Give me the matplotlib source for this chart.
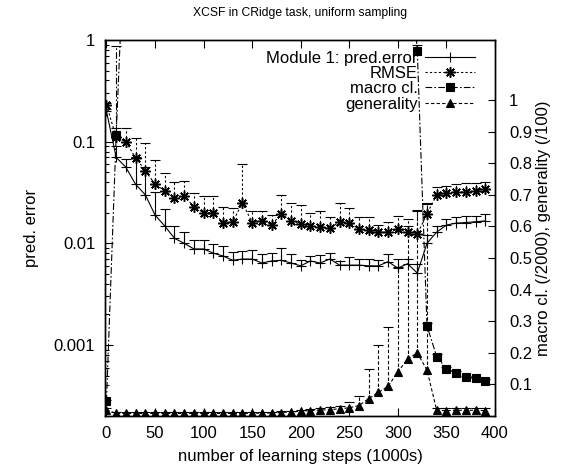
import matplotlib
matplotlib.use("Agg")
import matplotlib.pyplot as plt
from matplotlib.lines import Line2D
from matplotlib.ticker import LogLocator, FuncFormatter, NullFormatter, FixedLocator

plt.rcParams['font.family'] = ['Liberation Sans', 'DejaVu Sans']
plt.rcParams['font.size'] = 12

# learning steps (1000s)
steps = [0, 10, 20, 30, 40, 50, 60, 70, 80, 90,
         100, 110, 120, 130, 140, 150, 160, 170, 180, 190,
         200, 210, 220, 230, 240, 250, 260, 270, 280, 290,
         300, 310, 320, 330, 340, 350, 360, 370, 380, 390]

# Module 1 prediction error (mean and upper deviation)
pred_error = [0.20, 0.070, 0.056, 0.038, 0.030, 0.019, 0.0148, 0.0112, 0.0100, 0.0088,
              0.0088, 0.0080, 0.0075, 0.0068, 0.0070, 0.0070, 0.0064, 0.0067, 0.0068, 0.0064,
              0.0060, 0.0067, 0.0064, 0.0070, 0.0061, 0.0061, 0.0061, 0.0060, 0.0060, 0.0066,
              0.0057, 0.0063, 0.0051, 0.0100, 0.0129, 0.0151, 0.0158, 0.0160, 0.0163, 0.0166]
pred_error_hi = [0.21, 0.090, 0.068, 0.070, 0.056, 0.032, 0.0216, 0.0148, 0.0130, 0.0108,
                 0.0108, 0.0098, 0.0094, 0.0082, 0.0084, 0.0086, 0.0078, 0.0080, 0.0090, 0.0078,
                 0.0068, 0.0075, 0.0077, 0.0080, 0.0067, 0.0073, 0.0070, 0.0070, 0.0068, 0.0079,
                 0.0070, 0.0070, 0.0063, 0.0120, 0.0148, 0.0174, 0.0180, 0.0185, 0.0185, 0.0195]

# RMSE
rmse = [0.23, 0.11, 0.10, 0.069, 0.052, 0.038, 0.033, 0.028, 0.029, 0.023,
        0.020, 0.020, 0.016, 0.0163, 0.025, 0.016, 0.0167, 0.0152, 0.0195, 0.0167,
        0.0155, 0.0148, 0.0144, 0.0140, 0.0163, 0.0160, 0.0137, 0.0134, 0.0129, 0.0129,
        0.0137, 0.0129, 0.0123, 0.0195, 0.030, 0.031, 0.032, 0.032, 0.033, 0.034]
rmse_hi = [0.24, 0.135, 0.137, 0.108, 0.097, 0.066, 0.049, 0.040, 0.041, 0.031,
           0.029, 0.029, 0.023, 0.022, 0.060, 0.021, 0.021, 0.019, 0.030, 0.025,
           0.024, 0.020, 0.021, 0.018, 0.025, 0.022, 0.018, 0.018, 0.015, 0.0163,
           0.0186, 0.0174, 0.0215, 0.025, 0.036, 0.037, 0.038, 0.039, 0.039, 0.040]

# macro classifiers (/2000)
macro_cl = [0.046, 0.89, 1.62, 1.70, 1.74, 1.77, 1.79, 1.80, 1.81, 1.82,
            1.82, 1.83, 1.83, 1.84, 1.84, 1.84, 1.85, 1.85, 1.85, 1.85,
            1.86, 1.86, 1.86, 1.86, 1.86, 1.86, 1.85, 1.84, 1.82, 1.78,
            1.70, 1.55, 1.155, 0.285, 0.188, 0.150, 0.136, 0.122, 0.119, 0.110]
macro_cl_hi = [0.050, 1.17, 1.66, 1.74, 1.78, 1.81, 1.83, 1.84, 1.85, 1.86,
               1.86, 1.87, 1.87, 1.88, 1.88, 1.88, 1.89, 1.89, 1.89, 1.89,
               1.90, 1.90, 1.90, 1.90, 1.90, 1.90, 1.89, 1.88, 1.86, 1.82,
               1.74, 1.60, 1.173, 0.295, 0.195, 0.156, 0.142, 0.128, 0.125, 0.116]

# generality (/100)
generality = [0.020, 0.008, 0.008, 0.008, 0.008, 0.008, 0.008, 0.008, 0.008, 0.008,
              0.008, 0.008, 0.008, 0.008, 0.008, 0.009, 0.009, 0.010, 0.011, 0.013,
              0.015, 0.017, 0.019, 0.020, 0.023, 0.026, 0.033, 0.055, 0.075, 0.094,
              0.140, 0.180, 0.200, 0.145, 0.018, 0.017, 0.018, 0.018, 0.018, 0.017]
generality_hi = [0.025, 0.012, 0.012, 0.012, 0.012, 0.012, 0.012, 0.012, 0.012, 0.012,
                 0.012, 0.012, 0.012, 0.012, 0.012, 0.013, 0.013, 0.014, 0.015, 0.017,
                 0.019, 0.022, 0.025, 0.027, 0.031, 0.043, 0.062, 0.150, 0.226, 0.283,
                 0.470, 0.600, 0.650, 0.670, 0.026, 0.026, 0.026, 0.026, 0.026, 0.026]

left_ticks = [1, 0.1, 0.01, 0.001]
right_ticks = [0.1, 0.2, 0.3, 0.4, 0.5, 0.6, 0.7, 0.8, 0.9, 1.0]
x_ticks = [0, 50, 100, 150, 200, 250, 300, 350, 400]

SOLID = '-'
DOTTED = (0, (2.0, 2.0))
DASHDOT = (0, (6.0, 2.0, 1.5, 2.0))
DASHED = (0, (3.0, 2.0))
LW = 0.8


def draw_series(axis, ys, hi, ls, marker, ms, mfc, mew=LW):
    axis.vlines(steps, ys, hi, colors='k', linestyles=ls, linewidth=LW)
    axis.plot(steps, hi, ls='none', marker='_', ms=6.5, mew=LW, color='k')
    axis.plot(steps, ys, color='k', ls=ls, lw=LW, marker=marker, ms=ms,
              mfc=mfc, mec='k', mew=mew)


fig = plt.figure(figsize=(5.74, 4.74), dpi=100)
ax = fig.add_axes([105 / 574, 58 / 474, 390 / 574, 376 / 474])
ax.set_yscale('log')
ax.set_xlim(-1.5, 400)
ax.set_ylim(2e-4, 1)

ax2 = ax.twinx()
ax2.set_ylim(0, 1.19)

star = (8, 2, 0)
draw_series(ax, pred_error, pred_error_hi, SOLID, '+', 7, 'k')
draw_series(ax, rmse, rmse_hi, DOTTED, star, 7.5, 'k', mew=1.1)
draw_series(ax2, macro_cl, macro_cl_hi, DASHDOT, 's', 6, 'k')
draw_series(ax2, generality, generality_hi, DASHED, '^', 5.5, 'k')

# axes and ticks
ax.xaxis.set_major_locator(FixedLocator(x_ticks))
ax.yaxis.set_major_locator(FixedLocator(left_ticks))
ax.yaxis.set_minor_locator(LogLocator(base=10, subs=[2, 3, 4, 5, 6, 7, 8, 9], numticks=20))
ax.yaxis.set_major_formatter(FuncFormatter(lambda v, p: '%g' % v))
ax.yaxis.set_minor_formatter(NullFormatter())
ax.tick_params(axis='x', which='both', direction='in', top=True, bottom=True,
               length=6, width=0.8, pad=7)
ax.tick_params(axis='y', which='major', direction='in', left=True, right=False,
               length=6, width=0.8, pad=7)
ax.tick_params(axis='y', which='minor', direction='in', left=True, right=False,
               length=3, width=0.8)

ax2.yaxis.set_major_locator(FixedLocator(right_ticks))
ax2.yaxis.set_major_formatter(FuncFormatter(lambda v, p: '%g' % v))
ax2.tick_params(axis='y', which='both', direction='in', right=True, left=False,
                length=5, width=0.8, pad=10)

for a in (ax, ax2):
    for s in a.spines.values():
        s.set_linewidth(1.0)

ax.set_xlabel('number of learning steps (1000s)')
ax.set_ylabel('pred. error')
ax2.set_ylabel('macro cl. (/2000), generality (/100)')
ax.xaxis.set_label_coords(0.5, -0.088)
ax.yaxis.set_label_coords(-0.17, 0.5)
ax2.yaxis.set_label_coords(1.105, 0.5)
ax.set_title('XCSF in CRidge task, uniform sampling', fontsize=8.7, pad=17)

handles = [
    Line2D([], [], color='k', ls=SOLID, lw=LW, marker='+', ms=7, mew=LW),
    Line2D([], [], color='k', ls=DOTTED, lw=LW, marker=star, ms=7.5, mew=1.1),
    Line2D([], [], color='k', ls=DASHDOT, lw=LW, marker='s', ms=6, mew=LW),
    Line2D([], [], color='k', ls=DASHED, lw=LW, marker='^', ms=5.5, mew=LW),
]
labels = ['Module 1: pred.error', 'RMSE', 'macro cl.', 'generality']
ax2.legend(handles, labels, loc='upper right', bbox_to_anchor=(0.949, 0.972),
           frameon=False, markerfirst=False, numpoints=1, handlelength=3.0,
           handletextpad=0.45, labelspacing=0.02, borderpad=0, borderaxespad=0,
           fontsize=12)

fig.savefig('out.png', dpi=100)
